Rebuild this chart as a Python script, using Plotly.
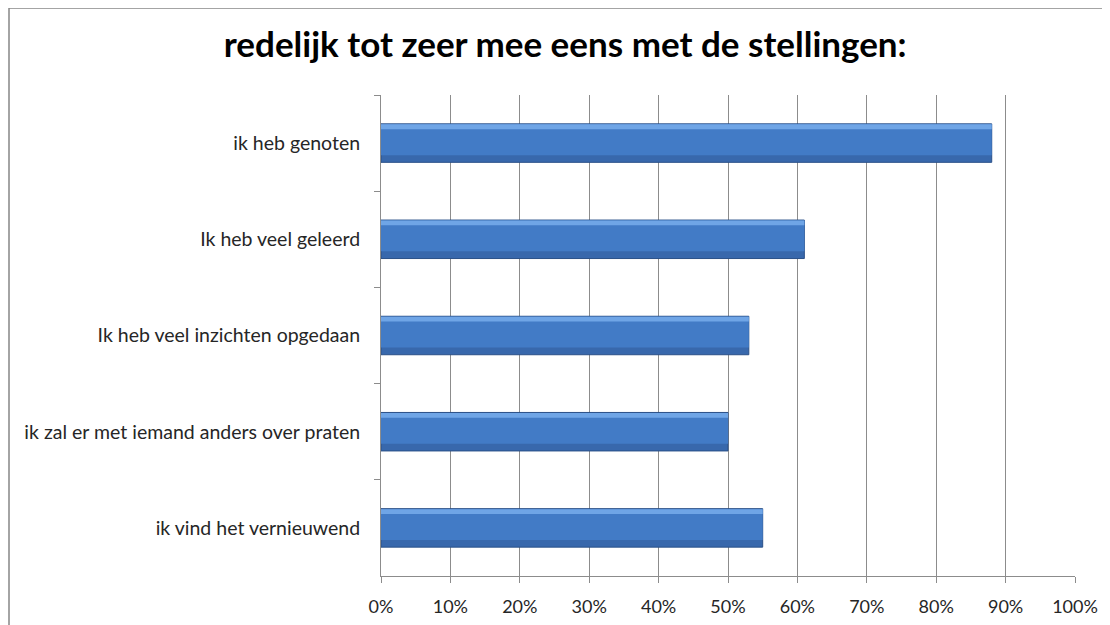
import plotly.graph_objects as go

categories = [
    "ik heb genoten",
    "Ik heb veel geleerd",
    "Ik heb veel inzichten opgedaan",
    "ik zal er met iemand anders over praten",
    "ik vind het vernieuwend",
]
values = [88, 61, 53, 50, 55]
tick_vals = [0, 10, 20, 30, 40, 50, 60, 70, 80, 90, 100]
tick_text = [f"{v}%" for v in tick_vals]
title_text = "redelijk tot zeer mee eens met de stellingen:"

FONT = "Lato, Open Sans, sans-serif"

fig = go.Figure()
# base bar (darker bottom edge)
fig.add_trace(go.Bar(
    x=values, y=categories, orientation="h",
    width=0.4,
    marker=dict(color="#3868AC", line=dict(color="#2A5088", width=1)),
    hoverinfo="x+y",
))
# main body
fig.add_trace(go.Bar(
    x=values, y=categories, orientation="h",
    width=0.32, offset=-0.195,
    marker=dict(color="#427BC6", line=dict(width=0)),
    hoverinfo="skip",
))
# top highlight
fig.add_trace(go.Bar(
    x=values, y=categories, orientation="h",
    width=0.05, offset=-0.195,
    marker=dict(color="#6FA5E6", line=dict(width=0)),
    hoverinfo="skip",
))
fig.update_layout(
    width=1110, height=625,
    barmode="overlay",
    showlegend=False,
    paper_bgcolor="white", plot_bgcolor="white",
    margin=dict(l=373, r=43, t=87, b=57),
    font=dict(family=FONT, size=18, color="#262626"),
    title=dict(text=f"<b>{title_text}</b>", x=0.502, xanchor="center",
               y=0.941, yanchor="middle",
               font=dict(size=35, color="black", family=FONT)),
    shapes=[dict(type="rect", xref="paper", yref="paper",
                 x0=(1 - 373) / 694, x1=1.2, y0=-0.3, y1=(481 + 87 - 0) / 481,
                 line=dict(color="#868686", width=1.5), fillcolor="rgba(0,0,0,0)", layer="below")],
)
fig.update_xaxes(
    range=[0, 100], tickvals=tick_vals, ticktext=tick_text,
    showgrid=True, gridcolor="#8C8C8C", gridwidth=1,
    showline=True, linecolor="#8C8C8C", linewidth=1,
    ticks="outside", ticklen=6, tickcolor="#8C8C8C",
    ticklabelstandoff=8,
    zeroline=False, fixedrange=True,
)
fig.update_yaxes(
    categoryorder="array", categoryarray=categories, autorange="reversed",
    showline=True, linecolor="#8C8C8C", linewidth=1,
    ticks="outside", ticklen=6, tickcolor="#8C8C8C", tickson="boundaries",
    ticklabelstandoff=16, tickfont=dict(size=19.5),
    showgrid=False, fixedrange=True,
)
fig.write_html("out.html")
